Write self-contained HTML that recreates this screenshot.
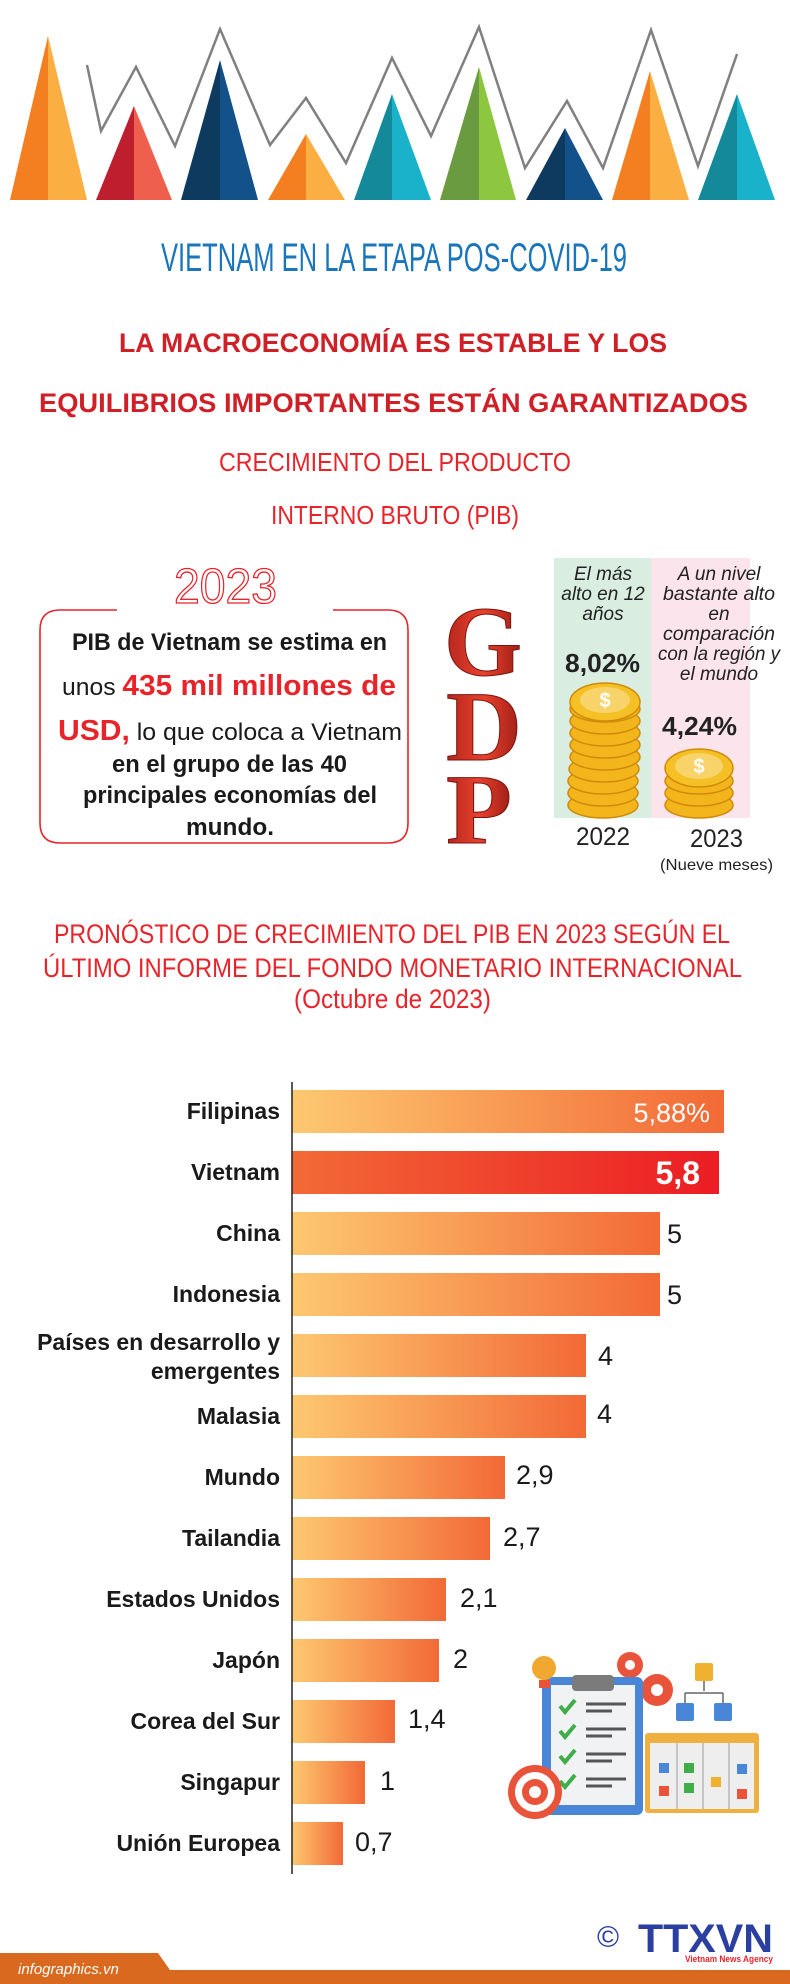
<!DOCTYPE html>
<html><head><meta charset="utf-8"><style>html,body{margin:0;padding:0;background:#fff}svg{display:block}</style></head>
<body>
<svg width="790" height="1984" viewBox="0 0 790 1984" xmlns="http://www.w3.org/2000/svg" font-family="Liberation Sans, sans-serif">
<defs>
<linearGradient id="bar" x1="0" x2="1" y1="0" y2="0"><stop offset="0" stop-color="#fdc870"/><stop offset="1" stop-color="#f26936"/></linearGradient>
<linearGradient id="vn" x1="0" x2="1" y1="0" y2="0"><stop offset="0" stop-color="#f26a36"/><stop offset="1" stop-color="#ec1c24"/></linearGradient>
<linearGradient id="gd" x1="0" x2="1"><stop offset="0" stop-color="#b3261e"/><stop offset="0.5" stop-color="#e8412c"/><stop offset="1" stop-color="#9c1d15"/></linearGradient>
</defs>
<!-- triangles -->
<polyline points="87,65 101,131 136,67 175,146 220,29 270,145 306,98 346,163 392,58 431,136 479,27 525,168 567,101 603,168 651,30 698,166 737,54" fill="none" stroke="#808080" stroke-width="2.5"/>
<g>
<polygon points="10,200 48,36 48,200" fill="#f47f20"/><polygon points="48,36 87,200 48,200" fill="#fbae42"/>
<polygon points="96,200 134,106 134,200" fill="#be1e2d"/><polygon points="134,106 172,200 134,200" fill="#ef5f4e"/>
<polygon points="181,200 220,60 220,200" fill="#0f3a5f"/><polygon points="220,60 258,200 220,200" fill="#13518b"/>
<polygon points="268,200 306,134 306,200" fill="#f47f20"/><polygon points="306,134 345,200 306,200" fill="#fbae42"/>
<polygon points="354,200 392,94 392,200" fill="#13899a"/><polygon points="392,94 431,200 392,200" fill="#19b2ca"/>
<polygon points="440,200 479,67 479,200" fill="#6b9b41"/><polygon points="479,67 516,200 479,200" fill="#8dc63f"/>
<polygon points="526,200 565,128 565,200" fill="#0f3a5f"/><polygon points="565,128 603,200 565,200" fill="#13518b"/>
<polygon points="612,200 650,71 650,200" fill="#f47f20"/><polygon points="650,71 689,200 650,200" fill="#fbae42"/>
<polygon points="698,200 737,94 737,200" fill="#13899a"/><polygon points="737,94 775,200 737,200" fill="#19b2ca"/>
</g>
<!-- titles -->
<text x="161" y="271" font-size="40" fill="#1a75bb" textLength="466" lengthAdjust="spacingAndGlyphs">VIETNAM EN LA ETAPA POS-COVID-19</text>
<text x="119" y="352" font-size="27" font-weight="bold" fill="#cf2027" textLength="548" lengthAdjust="spacingAndGlyphs">LA MACROECONOMÍA ES ESTABLE Y LOS</text>
<text x="39" y="412" font-size="27" font-weight="bold" fill="#cf2027" textLength="709" lengthAdjust="spacingAndGlyphs">EQUILIBRIOS IMPORTANTES ESTÁN GARANTIZADOS</text>
<text x="219" y="471" font-size="26" fill="#e8242b" textLength="352" lengthAdjust="spacingAndGlyphs">CRECIMIENTO DEL PRODUCTO</text>
<text x="271" y="524" font-size="26" fill="#e8242b" textLength="248" lengthAdjust="spacingAndGlyphs">INTERNO BRUTO (PIB)</text>
<!-- 2023 box -->
<text x="174" y="603" font-size="49" fill="#fff" stroke="#e8242b" stroke-width="1.3" textLength="103" lengthAdjust="spacingAndGlyphs">2023</text>
<path d="M117,610 H60 Q40,610 40,630 V823 Q40,843 60,843 H388 Q408,843 408,823 V630 Q408,610 388,610 H333" fill="none" stroke="#e8242b" stroke-width="1.6"/>
<g font-size="24" fill="#1a1a1a" font-weight="bold">
<text x="72" y="650" textLength="315" lengthAdjust="spacingAndGlyphs">PIB de Vietnam se estima en</text>
<text x="62" y="695" textLength="334" lengthAdjust="spacingAndGlyphs"><tspan font-weight="normal">unos </tspan><tspan fill="#e8242b" font-size="29">435 mil millones de</tspan></text>
<text x="58" y="740" textLength="344" lengthAdjust="spacingAndGlyphs"><tspan fill="#e8242b" font-size="29">USD,</tspan><tspan font-weight="normal"> lo que coloca a Vietnam</tspan></text>
<text x="112" y="772" textLength="235" lengthAdjust="spacingAndGlyphs">en el grupo de las 40</text>
<text x="83" y="803" textLength="294" lengthAdjust="spacingAndGlyphs">principales economías del</text>
<text x="186" y="835" textLength="88" lengthAdjust="spacingAndGlyphs">mundo.</text>
</g>
<!-- GDP letters -->
<g font-weight="bold" font-family="Liberation Serif, serif" fill="url(#gd)" stroke="#7a1410" stroke-width="1">
<text x="444" y="675" font-size="100" textLength="78" lengthAdjust="spacingAndGlyphs">G</text>
<text x="446" y="760" font-size="100" textLength="76" lengthAdjust="spacingAndGlyphs">D</text>
<text x="446" y="843" font-size="100" textLength="66" lengthAdjust="spacingAndGlyphs">P</text>
</g>
<!-- panels -->
<rect x="554" y="558" width="97" height="260" fill="#d9ede1"/>
<rect x="651" y="558" width="99" height="260" fill="#fce4ec"/>
<g font-size="19" font-style="italic" fill="#222" text-anchor="middle">
<text x="603" y="580">El más</text><text x="603" y="600">alto en 12</text><text x="603" y="620">años</text>
<text x="719" y="580">A un nivel</text><text x="719" y="600" textLength="112" lengthAdjust="spacingAndGlyphs">bastante alto</text><text x="719" y="620">en</text>
<text x="719" y="640" textLength="112" lengthAdjust="spacingAndGlyphs">comparación</text><text x="719" y="660" textLength="122" lengthAdjust="spacingAndGlyphs">con la región y</text><text x="719" y="680">el mundo</text>
</g>
<g font-size="26" font-weight="bold" fill="#222">
<text x="565" y="672" textLength="75" lengthAdjust="spacingAndGlyphs">8,02%</text>
<text x="662" y="735" textLength="75" lengthAdjust="spacingAndGlyphs">4,24%</text>
</g>
<!-- coins 2022 -->
<g fill="#f2b51c" stroke="#d08a0a" stroke-width="1.5">
<ellipse cx="603" cy="805" rx="35" ry="13"/><ellipse cx="603" cy="793" rx="35" ry="13"/><ellipse cx="603" cy="781" rx="35" ry="13"/><ellipse cx="604" cy="769" rx="35" ry="13"/><ellipse cx="605" cy="757" rx="35" ry="13"/><ellipse cx="605" cy="745" rx="35" ry="13"/><ellipse cx="605" cy="733" rx="35" ry="13"/><ellipse cx="605" cy="721" rx="35" ry="13"/><ellipse cx="605" cy="709" rx="35" ry="13"/>
<ellipse cx="605" cy="702" rx="35" ry="19" fill="#f5c025"/>
<ellipse cx="605" cy="700" rx="25" ry="13" fill="#f8d36a" stroke="none"/>
</g>
<text x="605" y="707" font-size="20" font-weight="bold" fill="#fff" text-anchor="middle">$</text>
<g fill="#f2b51c" stroke="#d08a0a" stroke-width="1.5">
<ellipse cx="699" cy="805" rx="34" ry="13"/><ellipse cx="699" cy="793" rx="34" ry="13"/><ellipse cx="699" cy="781" rx="34" ry="13"/>
<ellipse cx="699" cy="768" rx="34" ry="19" fill="#f5c025"/>
<ellipse cx="699" cy="766" rx="24" ry="13" fill="#f8d36a" stroke="none"/>
</g>
<text x="699" y="773" font-size="20" font-weight="bold" fill="#fff" text-anchor="middle">$</text>
<g fill="#222">
<text x="576" y="845" font-size="25" textLength="54" lengthAdjust="spacingAndGlyphs">2022</text>
<text x="690" y="847" font-size="25" textLength="53" lengthAdjust="spacingAndGlyphs">2023</text>
<text x="660" y="870" font-size="16" textLength="113" lengthAdjust="spacingAndGlyphs">(Nueve meses)</text>
</g>
<!-- chart title -->
<g font-size="27" fill="#e8242b">
<text x="54" y="943" textLength="676" lengthAdjust="spacingAndGlyphs">PRONÓSTICO DE CRECIMIENTO DEL PIB EN 2023 SEGÚN EL</text>
<text x="43" y="977" textLength="699" lengthAdjust="spacingAndGlyphs">ÚLTIMO INFORME DEL FONDO MONETARIO INTERNACIONAL</text>
<text x="294" y="1008" textLength="197" lengthAdjust="spacingAndGlyphs">(Octubre de 2023)</text>
</g>
<!-- bars -->
<g>
<rect x="292" y="1090" width="432" height="43" fill="url(#bar)"/>
<rect x="292" y="1151" width="427" height="43" fill="url(#vn)"/>
<rect x="292" y="1212" width="368" height="43" fill="url(#bar)"/>
<rect x="292" y="1273" width="368" height="43" fill="url(#bar)"/>
<rect x="292" y="1334" width="294" height="43" fill="url(#bar)"/>
<rect x="292" y="1395" width="294" height="43" fill="url(#bar)"/>
<rect x="292" y="1456" width="213" height="43" fill="url(#bar)"/>
<rect x="292" y="1517" width="198" height="43" fill="url(#bar)"/>
<rect x="292" y="1578" width="154" height="43" fill="url(#bar)"/>
<rect x="292" y="1639" width="147" height="43" fill="url(#bar)"/>
<rect x="292" y="1700" width="103" height="43" fill="url(#bar)"/>
<rect x="292" y="1761" width="73" height="43" fill="url(#bar)"/>
<rect x="292" y="1822" width="51" height="43" fill="url(#bar)"/>
</g>
<line x1="292" y1="1082" x2="292" y2="1874" stroke="#222" stroke-width="1.5"/>
<g font-size="23" font-weight="bold" fill="#1a1a1a" text-anchor="end">
<text x="280" y="1119">Filipinas</text>
<text x="280" y="1180">Vietnam</text>
<text x="280" y="1241">China</text>
<text x="280" y="1302">Indonesia</text>
<text x="280" y="1350">Países en desarrollo y</text>
<text x="280" y="1379">emergentes</text>
<text x="280" y="1424">Malasia</text>
<text x="280" y="1485">Mundo</text>
<text x="280" y="1546">Tailandia</text>
<text x="280" y="1607">Estados Unidos</text>
<text x="280" y="1668">Japón</text>
<text x="280" y="1729">Corea del Sur</text>
<text x="280" y="1790">Singapur</text>
<text x="280" y="1851">Unión Europea</text>
</g>
<text x="710" y="1122" font-size="27" fill="#fff" text-anchor="end">5,88%</text>
<text x="700" y="1184" font-size="32" font-weight="bold" fill="#fff" text-anchor="end">5,8</text>
<g font-size="27" fill="#1a1a1a">
<text x="667" y="1243">5</text>
<text x="667" y="1304">5</text>
<text x="598" y="1365">4</text>
<text x="597" y="1423">4</text>
<text x="516" y="1484">2,9</text>
<text x="503" y="1546">2,7</text>
<text x="460" y="1607">2,1</text>
<text x="453" y="1668">2</text>
<text x="408" y="1728">1,4</text>
<text x="380" y="1790">1</text>
<text x="355" y="1851">0,7</text>
</g>
<!-- illustration -->
<g>
<circle cx="630" cy="1665" r="13" fill="#e8533a"/><circle cx="630" cy="1665" r="5" fill="#fff"/>
<circle cx="657" cy="1690" r="16" fill="#e8533a"/><circle cx="657" cy="1690" r="6" fill="#fff"/>
<rect x="542" y="1677" width="101" height="138" rx="6" fill="#4a86d8"/>
<rect x="551" y="1685" width="84" height="120" fill="#f1f2f4"/>
<rect x="572" y="1675" width="42" height="16" rx="4" fill="#7b7b7b"/>
<g stroke="#3fae49" stroke-width="4" fill="none">
<path d="M560,1706 l5,6 l10,-12"/><path d="M560,1731 l5,6 l10,-12"/><path d="M560,1756 l5,6 l10,-12"/><path d="M560,1781 l5,6 l10,-12"/>
</g>
<g stroke="#555" stroke-width="3">
<line x1="586" y1="1704" x2="626" y2="1704"/><line x1="586" y1="1711" x2="612" y2="1711"/>
<line x1="586" y1="1729" x2="626" y2="1729"/><line x1="586" y1="1736" x2="612" y2="1736"/>
<line x1="586" y1="1754" x2="626" y2="1754"/><line x1="586" y1="1761" x2="612" y2="1761"/>
<line x1="586" y1="1779" x2="626" y2="1779"/><line x1="586" y1="1786" x2="612" y2="1786"/>
</g>
<circle cx="544" cy="1668" r="12" fill="#f0a830"/><rect x="539" y="1680" width="11" height="8" fill="#e8533a"/>
<circle cx="535" cy="1792" r="27" fill="#e8533a"/><circle cx="535" cy="1792" r="20" fill="#fff"/><circle cx="535" cy="1792" r="13" fill="#e8533a"/><circle cx="535" cy="1792" r="6" fill="#fff"/>
<rect x="695" y="1663" width="18" height="18" rx="2" fill="#f0b030"/>
<path d="M704,1681 v10 M685,1693 h38 M685,1693 v10 M723,1693 v10" stroke="#666" stroke-width="1.5" fill="none"/>
<rect x="676" y="1703" width="18" height="18" rx="2" fill="#4a86d8"/><rect x="714" y="1703" width="18" height="18" rx="2" fill="#4a86d8"/>
<rect x="645" y="1733" width="114" height="80" rx="3" fill="#f0b040"/>
<rect x="650" y="1743" width="104" height="66" fill="#eeeeef"/>
<g stroke="#999" stroke-width="1"><line x1="677" y1="1743" x2="677" y2="1809"/><line x1="703" y1="1743" x2="703" y2="1809"/><line x1="729" y1="1743" x2="729" y2="1809"/></g>
<rect x="659" y="1763" width="10" height="10" fill="#4a86d8"/><rect x="684" y="1763" width="10" height="10" fill="#3fae49"/><rect x="684" y="1783" width="10" height="10" fill="#3fae49"/>
<rect x="659" y="1786" width="10" height="10" fill="#e8533a"/><rect x="711" y="1777" width="10" height="10" fill="#f0b030"/><rect x="737" y="1764" width="10" height="10" fill="#4a86d8"/><rect x="737" y="1789" width="10" height="10" fill="#e8533a"/>
</g>
<!-- logo -->
<text x="597" y="1947" font-size="30" fill="#2a3f9f">©</text>
<text x="638" y="1952" font-size="40" font-weight="bold" fill="#2a3f9f" textLength="135" lengthAdjust="spacingAndGlyphs">TTXVN</text>
<text x="685" y="1962" font-size="9" font-weight="bold" fill="#e8242b" textLength="88" lengthAdjust="spacingAndGlyphs">Vietnam News Agency</text>
<!-- footer -->
<polygon points="0,1953 158,1953 170,1970 790,1970 790,1984 0,1984" fill="#d8691e"/>
<text x="18" y="1974" font-size="15" font-style="italic" fill="#fff">infographics.vn</text>
</svg>
</body></html>
